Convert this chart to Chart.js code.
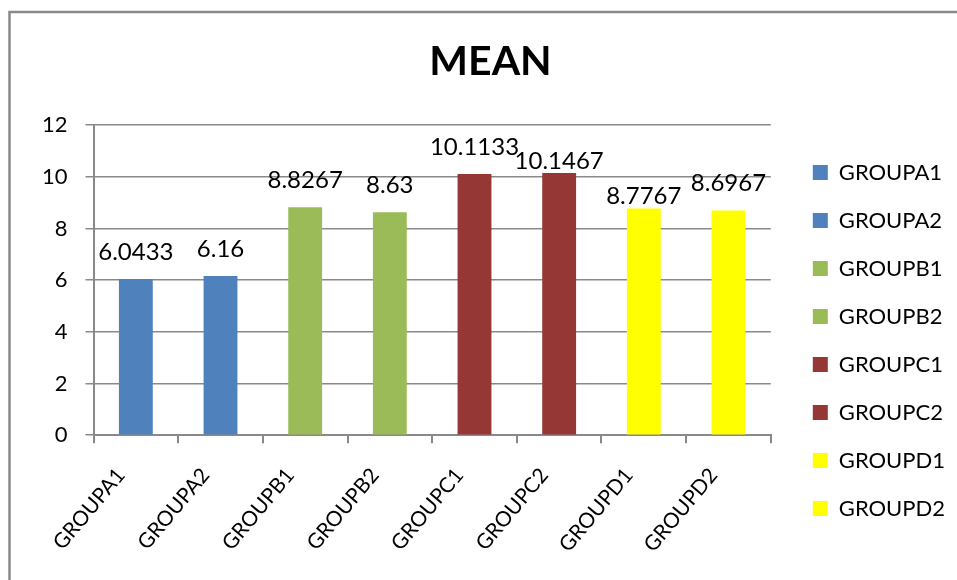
<!DOCTYPE html>
<html>
<head>
<meta charset="utf-8">
<script src="https://cdn.jsdelivr.net/npm/chart.js@4/dist/chart.umd.min.js"></script>
<style>
 html,body{margin:0;padding:0;background:#fff;}
 #wrap{width:957px;height:580px;position:relative;}
</style>
</head>
<body>
<div id="wrap"><canvas id="c" width="957" height="580"></canvas></div>
<script>
const categories=['GROUPA1','GROUPA2','GROUPB1','GROUPB2','GROUPC1','GROUPC2','GROUPD1','GROUPD2'];
const meanValues=[6.0433,6.16,8.8267,8.63,10.1133,10.1467,8.7767,8.6967];
const barColors=['#4F81BD','#4F81BD','#9BBB59','#9BBB59','#953735','#953735','#FFFF00','#FFFF00'];
const yTicks=[0,2,4,6,8,10,12];

const GRID='#898989';
Chart.defaults.font.family='Lato, "Open Sans", sans-serif';
Chart.defaults.color='#000';

// chart frame (gray border at top/left like the office chart)
const frame={
 id:'frame',
 beforeDraw(chart){
   const ctx=chart.ctx;
   ctx.save();
   ctx.fillStyle='#fff';ctx.fillRect(0,0,chart.width,chart.height);
   ctx.strokeStyle='#8a8a8a';ctx.lineWidth=2.5;
   ctx.beginPath();ctx.moveTo(9.5,chart.height);ctx.lineTo(9.5,12);ctx.lineTo(chart.width,12);ctx.stroke();
   ctx.restore();
 }
};

// legend sits a bit right of the plot and below the title; title a touch right
const boxShift={
 id:'boxShift',
 afterLayout(chart){
   const lg=chart.legend;
   lg.left+=16;lg.right+=16;
   lg.top+=52;lg.bottom+=52;
   const tb=chart.titleBlock;
   if(tb){tb.left+=9;tb.right+=9;}
 }
};

// value labels above the bars
const valueLabels={
 id:'valueLabels',
 afterDatasetsDraw(chart){
   const ctx=chart.ctx;
   const meta=chart.getDatasetMeta(0);
   ctx.save();
   ctx.font='24px Lato, "Open Sans", sans-serif';
   ctx.fillStyle='#000';ctx.textAlign='center';ctx.textBaseline='middle';
   let prev=null;
   meta.data.forEach((bar,i)=>{
     const txt=String(meanValues[i]);
     const w=ctx.measureText(txt).width;
     let y=bar.y-27;
     const box={l:bar.x-w/2,r:bar.x+w/2,t:y-12,b:y+12};
     if(prev && box.l<prev.r+3 && box.t<prev.b && box.b>prev.t){y+=15;box.t+=15;box.b+=15;}
     ctx.fillText(txt,bar.x,y);
     prev=box;
   });
   ctx.restore();
 }
};

new Chart(document.getElementById('c'),{
 type:'bar',
 data:{labels:categories,datasets:[{label:'MEAN',data:meanValues,backgroundColor:barColors,barPercentage:0.4,categoryPercentage:1}]},
 options:{
   responsive:false,animation:false,devicePixelRatio:1,
   layout:{padding:{left:24,right:18,top:0,bottom:3}},
   plugins:{
     title:{display:true,text:'MEAN',font:{size:41,weight:'bold'},color:'#000',padding:{top:37,bottom:39}},
     legend:{position:'right',align:'center',
       labels:{font:{size:22},color:'#000',boxWidth:15,boxHeight:15,padding:26,
         generateLabels:()=>categories.map((c,i)=>({text:c,fillStyle:barColors[i],strokeStyle:barColors[i],lineWidth:0,index:i}))}},
     tooltip:{enabled:false}
   },
   scales:{
     x:{grid:{drawOnChartArea:false,drawTicks:true,tickLength:8,color:GRID,lineWidth:2,offset:true},
        border:{color:GRID,width:2},
        afterFit:s=>{s.paddingLeft=0;},
        ticks:{font:{size:21},color:'#000',maxRotation:50,minRotation:50,padding:20,labelOffset:-15}},
     y:{min:0,max:12,afterBuildTicks:s=>{s.ticks=yTicks.map(v=>({value:v}));},
        grid:{color:GRID,lineWidth:1.5,tickLength:8},
        border:{color:GRID,width:2},
        ticks:{font:{size:22},color:'#000',padding:18}}
   }
 },
 plugins:[frame,boxShift,valueLabels]
});
</script>
</body>
</html>
